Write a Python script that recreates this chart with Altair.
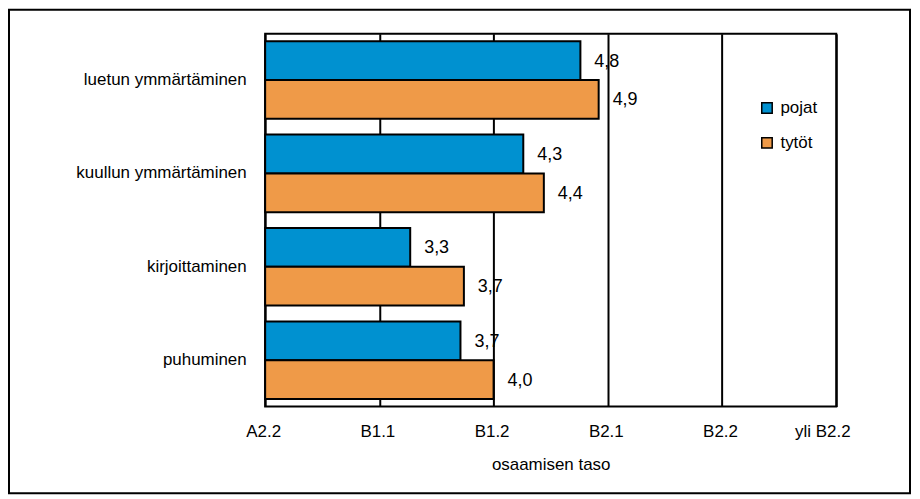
import altair as alt
import pandas as pd

categories = ["luetun ymmärtäminen", "kuullun ymmärtäminen", "kirjoittaminen", "puhuminen"]
groups = ["pojat", "tytöt"]
pojat = [4.76, 4.26, 3.27, 3.71]
tytot = [4.92, 4.44, 3.74, 4.00]
tick_values = [2, 3, 4, 5, 6, 7]
tick_labels = ["A2.2", "B1.1", "B1.2", "B2.1", "B2.2", "yli B2.2"]
colors = ["#0091D0", "#EF9A48"]

rows = []
for c, p, t in zip(categories, pojat, tytot):
    rows.append({"taito": c, "ryhma": groups[0], "arvo": p})
    rows.append({"taito": c, "ryhma": groups[1], "arvo": t})
df = pd.DataFrame(rows)

label_expr = " : ".join(
    [f"datum.value == {v} ? '{l}'" for v, l in zip(tick_values, tick_labels)]
) + " : ''"

FONT = "Liberation Sans"
FS = 17

x = alt.X("arvo:Q", stack=None, scale=alt.Scale(domain=[2, 7], nice=False, zero=False),
          axis=alt.Axis(values=tick_values, labelExpr=label_expr, title="osaamisen taso",
                        grid=True, gridColor="black", gridWidth=2, gridOpacity=1,
                        ticks=False, tickSize=0, domain=False, labelPadding=17,
                        labelOffset={"condition": {"test": "datum.value == 7", "value": -14},
                                     "value": -2},
                        titlePadding=17, labelFont=FONT, titleFont=FONT,
                        labelFontSize=FS, titleFontSize=FS, titleFontWeight="normal",
                        labelColor="black", titleColor="black", labelFlush=False))
y = alt.Y("taito:N", sort=categories,
          scale=alt.Scale(paddingInner=0.17, paddingOuter=0.08),
          axis=alt.Axis(title=None, ticks=False, tickSize=0, domain=False, grid=False,
                        labelPadding=19, labelFont=FONT, labelFontSize=FS,
                        labelColor="black", labelLimit=300))
yoff = alt.YOffset("ryhma:N", sort=groups)

base = alt.Chart(df)

bars = base.mark_bar(stroke="black", strokeWidth=2).encode(
    x=x, x2=alt.value(0), y=y, yOffset=yoff,
    color=alt.Color("ryhma:N", sort=groups,
                    scale=alt.Scale(domain=groups, range=colors),
                    legend=alt.Legend(title=None, orient="none", legendX=495, legendY=66,
                                      symbolType="square", symbolSize=110,
                                      symbolStrokeColor="black", symbolStrokeWidth=1.5,
                                      labelFont=FONT, labelFontSize=FS, labelColor="black",
                                      rowPadding=17, labelOffset=5)),
)

labels = base.transform_calculate(
    txt="replace(format(datum.arvo, '.1f'), '.', ',')"
).mark_text(align="left", baseline="middle", dx=14, dy=1, font=FONT, fontSize=18,
            color="black").encode(
    x=alt.X("arvo:Q", stack=None), y=alt.Y("taito:N", sort=categories), yOffset=yoff,
    text="txt:N"
)

frame = alt.Chart(pd.DataFrame({"a": [0]})).mark_rect(
    filled=False, stroke="black", strokeWidth=2
).encode(
    x=alt.value(-257), x2=alt.value(647), y=alt.value(-24), y2=alt.value(461)
)

chart = alt.layer(bars, labels, frame).properties(
    width=573, height=374,
    autosize=alt.AutoSizeParams(type="none"),
    padding={"left": 258, "top": 25, "right": 76, "bottom": 88},
    background="white",
).configure_view(stroke="black", strokeWidth=2)

chart.save("out.html", embed_options={"renderer": "svg", "actions": False})
